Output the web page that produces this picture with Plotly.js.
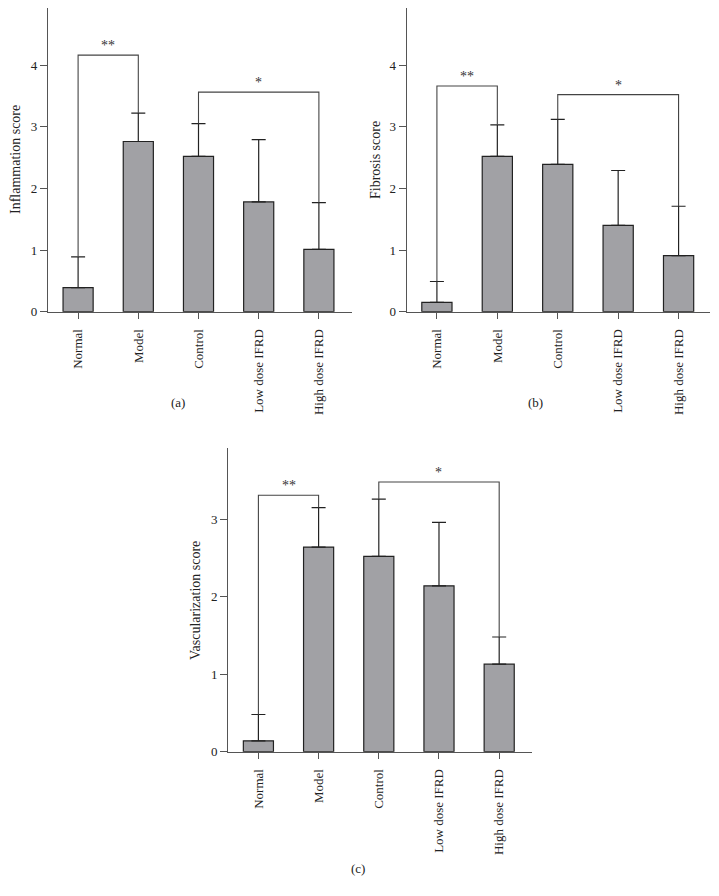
<!DOCTYPE html>
<html><head><meta charset="utf-8">
<script src="https://cdn.plot.ly/plotly-3.0.1.min.js"></script>
<style>html,body{margin:0;padding:0;background:#fff}#chart{width:719px;height:896px}</style>
</head><body><div id="chart"></div>
<script>
const categories = ['Normal','Model','Control','Low dose IFRD','High dose IFRD'];
const inflMean = [0.39, 2.76, 2.52, 1.78, 1.01];
const inflSD   = [0.50, 0.46, 0.53, 1.01, 0.76];
const fibMean  = [0.15, 2.52, 2.39, 1.40, 0.91];
const fibSD    = [0.34, 0.51, 0.73, 0.89, 0.80];
const vascMean = [0.14, 2.64, 2.52, 2.14, 1.13];
const vascSD   = [0.34, 0.51, 0.74, 0.82, 0.35];
const yTitles  = ['Inflammation score','Fibrosis score','Vascularization score'];
const panelLabels = ['(a)','(b)','(c)'];
// significance brackets: [from index, to index, height, label]
const inflSig = [[0,1,4.16,'**'],[2,4,3.56,'*']];
const fibSig  = [[0,1,3.66,'**'],[2,4,3.52,'*']];
const vascSig = [[0,1,3.31,'**'],[2,4,3.48,'*']];

const W=719,H=896;
const FONT='"Liberation Serif", serif';
const panels = [
  {mean:inflMean, sd:inflSD, sig:inflSig, x0:48, x1:352, y0:8.3, y1:311.7, yr:4.92, xr:[-0.5,4.55], ticks:[0,1,2,3,4], titleX:15, lab:[178,402]},
  {mean:fibMean, sd:fibSD, sig:fibSig, x0:406.7, x1:710, y0:8.3, y1:311.7, yr:4.92, xr:[-0.5,4.52], ticks:[0,1,2,3,4], titleX:375, lab:[535,402]},
  {mean:vascMean, sd:vascSD, sig:vascSig, x0:228.3, x1:531.7, y0:448.3, y1:751.7, yr:3.915, xr:[-0.5,4.54], ticks:[0,1,2,3], titleX:195, lab:[358,868]}
];
const traces=[], annotations=[], layout={
  width:W, height:H, margin:{l:0,r:0,t:0,b:0}, showlegend:false,
  paper_bgcolor:'#fff', plot_bgcolor:'rgba(0,0,0,0)', font:{family:FONT,color:'#222',size:13}
};
panels.forEach((p,k)=>{
  const n=k+1, xa='x'+(n===1?'':n), ya='y'+(n===1?'':n);
  const axX='xaxis'+(n===1?'':n), axY='yaxis'+(n===1?'':n);
  layout[axX]={domain:[p.x0/W,p.x1/W], range:p.xr, anchor:ya, type:'category',
    showline:true, linecolor:'#555', linewidth:1.2, ticks:'outside', ticklen:6, tickcolor:'#555',
    ticklabelstandoff:5,
    tickangle:-90, showgrid:false, zeroline:false, tickfont:{family:FONT,size:13,color:'#222'}, fixedrange:true};
  layout[axY]={domain:[1-p.y1/H,1-p.y0/H], range:[0,p.yr], anchor:xa,
    showline:true, linecolor:'#555', linewidth:1.2, ticks:'outside', ticklen:7, tickcolor:'#555',
    tickvals:p.ticks, showgrid:false, zeroline:false, tickfont:{family:FONT,size:13,color:'#222'}, fixedrange:true};
  traces.push({type:'bar', x:categories, y:p.mean, xaxis:xa, yaxis:ya, width:0.5,
    marker:{color:'#a1a1a5', line:{color:'#222',width:1.2}},
    error_y:{type:'data', symmetric:false, array:p.sd, arrayminus:p.sd.map(()=>0), color:'#222', thickness:1.2, width:7}});
  p.sig.forEach(s=>{
    const [i,j,h,t]=s;
    traces.push({type:'scatter', mode:'lines', xaxis:xa, yaxis:ya,
      x:[categories[i],categories[i],categories[j],categories[j]],
      y:[p.mean[i]+p.sd[i],h,h,p.mean[j]+p.sd[j]],
      line:{color:'#444',width:1.1}, hoverinfo:'skip'});
    annotations.push({xref:xa, yref:ya, x:(i+j)/2, y:h, text:t, showarrow:false,
      yanchor:'bottom', yshift:0, font:{family:FONT,size:14,color:'#333'}});
  });
  annotations.push({xref:'paper', yref:'paper', x:p.titleX/W, y:1-((p.y0+p.y1)/2)/H,
    text:yTitles[k], textangle:-90, showarrow:false, xanchor:'center', yanchor:'middle',
    font:{family:FONT,size:14,color:'#222'}});
  annotations.push({xref:'paper', yref:'paper', x:p.lab[0]/W, y:1-p.lab[1]/H,
    text:panelLabels[k], showarrow:false, xanchor:'center', yanchor:'middle',
    font:{family:FONT,size:13,color:'#222'}});
});
layout.annotations=annotations;
Plotly.newPlot('chart',traces,layout,{displayModeBar:false,staticPlot:true});
</script></body></html>
